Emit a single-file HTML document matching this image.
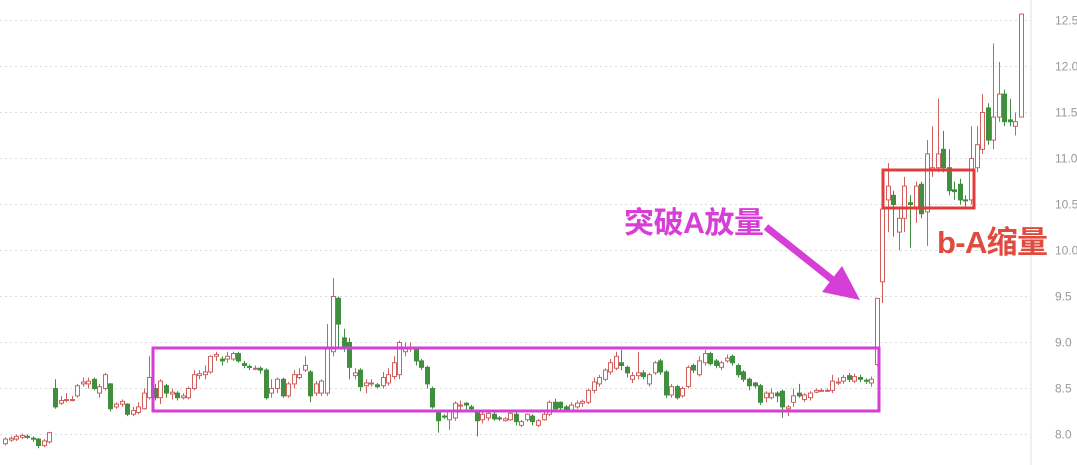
<!DOCTYPE html>
<html><head><meta charset="utf-8"><style>
html,body{margin:0;padding:0;background:#fff;}
svg{display:block;font-family:"Liberation Sans","Noto Sans CJK SC",sans-serif;}
</style></head><body>
<svg id="chart" width="1077" height="465" viewBox="0 0 1077 465" xmlns="http://www.w3.org/2000/svg">
<g id="grid"></g>
<line x1="1031" y1="0" x2="1031" y2="465" stroke="#e2e2e2"/>
<g id="yticks"></g>
<g id="candles"></g>
<rect x="153" y="348" width="726" height="63" fill="none" stroke="#d63ed6" stroke-width="3"/>
<rect x="883" y="170" width="91" height="38" fill="none" stroke="#e03c3c" stroke-width="3"/>
<text x="624" y="233" font-size="30" font-weight="bold" fill="#d63ed6" textLength="140">突破A放量</text>
<g>
<line x1="766" y1="227" x2="834" y2="281" stroke="#d63ed6" stroke-width="7"/>
<polygon points="860,300 822,292 842,266" fill="#d63ed6"/>
</g>
<text x="937" y="253" font-size="31" font-weight="bold" fill="#e04a3f" textLength="111">b-A缩量</text>
</svg>
<script>
const tickLabels=["8.0","8.5","9.0","9.5","10.0","10.5","11.0","11.5","12.0","12.5"];
const tickValues=[8.0,8.5,9.0,9.5,10.0,10.5,11.0,11.5,12.0,12.5];
const opens=[7.9,7.94,7.95,7.97,7.98,7.96,7.95,7.88,7.92,8.5,8.34,8.37,8.38,8.42,8.55,8.55,8.6,8.45,8.5,8.55,8.3,8.33,8.33,8.22,8.24,8.28,8.4,
8.5,8.4,8.53,8.44,8.45,8.4,8.4,8.5,8.64,8.65,8.68,8.85,8.82,8.82,8.82,8.88,8.77,8.74,8.72,8.72,8.7,8.45,8.5,8.6,8.42,8.55,8.62,8.7,8.68,8.45,8.45,8.45,8.9,9.48,9.05,9.0,
8.64,8.7,8.53,8.55,8.54,8.53,8.56,8.63,8.65,8.9,8.95,8.93,8.8,8.73,8.5,8.25,8.2,8.16,8.18,8.32,8.34,8.3,8.25,8.16,8.18,8.22,8.18,8.15,8.16,8.22,8.1,8.16,8.2,8.1,8.16,8.22,8.35,8.35,8.3,8.26,8.3,8.34,8.35,8.48,8.55,8.6,8.68,8.72,8.78,8.73,8.6,8.64,8.67,8.55,8.67,8.8,8.68,8.43,8.52,8.42,8.52,8.75,8.65,8.78,
8.88,8.8,8.73,8.8,8.85,8.75,8.68,8.6,8.56,8.53,8.4,8.4,8.45,8.47,8.28,8.35,8.45,8.38,8.4,8.46,8.48,8.48,8.48,8.56,8.58,8.64,8.58,8.62,8.59,8.56,8.76,9.66,10.55,10.6,10.2,10.35,10.52,10.45,10.72,10.42,10.88,10.9,11.1,10.9,10.66,10.72,10.55,10.55,10.9,11.1,11.55,11.2,11.45,11.7,11.42,11.35,11.45];
const closes=[7.95,7.96,7.98,7.99,7.97,7.95,7.88,7.93,8.02,8.3,8.37,8.38,8.38,8.53,8.57,8.58,8.5,8.52,8.65,8.28,8.33,8.36,8.22,8.26,8.3,8.45,8.62,
8.4,8.58,8.45,8.46,8.4,8.42,8.5,8.65,8.66,8.68,8.85,8.87,8.8,8.85,8.88,8.8,8.75,8.73,8.72,8.7,8.4,8.5,8.6,8.42,8.55,8.65,8.65,8.75,8.42,8.55,8.58,8.95,9.5,9.2,8.95,8.73,
8.67,8.52,8.56,8.56,8.52,8.62,8.65,8.78,9.0,8.95,8.95,8.8,8.73,8.55,8.3,8.15,8.19,8.25,8.34,8.32,8.32,8.28,8.15,8.22,8.23,8.17,8.17,8.17,8.23,8.14,8.14,8.22,8.14,8.15,8.22,8.35,8.28,8.29,8.26,8.32,8.34,8.36,8.48,8.57,8.62,8.7,8.78,8.85,8.75,8.67,8.64,8.67,8.63,8.65,8.78,8.68,8.43,8.52,8.4,8.5,8.73,8.7,8.8,8.88,
8.77,8.75,8.78,8.83,8.78,8.65,8.6,8.53,8.53,8.35,8.45,8.45,8.42,8.3,8.3,8.42,8.42,8.43,8.45,8.48,8.48,8.48,8.58,8.57,8.62,8.6,8.63,8.6,8.58,8.6,9.48,10.45,10.7,10.5,10.35,10.7,10.5,10.7,10.4,11.05,10.9,11.05,10.9,10.65,10.64,10.55,10.54,11.0,11.15,11.5,11.2,11.45,11.7,11.4,11.4,11.4,12.57];
const highs=[7.97,7.98,8.0,8.01,8.0,7.98,7.96,7.95,8.03,8.6,8.42,8.45,8.42,8.55,8.62,8.62,8.62,8.55,8.67,8.56,8.35,8.38,8.34,8.3,8.35,8.5,8.85,
8.55,8.6,8.55,8.5,8.47,8.45,8.52,8.7,8.7,8.75,8.86,8.9,8.85,8.9,8.9,8.9,8.8,8.76,8.75,8.74,8.72,8.6,8.62,8.62,8.57,8.7,8.72,8.85,8.7,8.58,8.6,9.2,9.7,9.5,9.15,9.05,
8.72,8.72,8.6,8.6,8.56,8.68,8.72,8.85,9.02,9.0,9.0,8.95,8.82,8.75,8.52,8.27,8.22,8.27,8.36,8.37,8.35,8.32,8.27,8.24,8.25,8.24,8.2,8.19,8.25,8.24,8.16,8.23,8.22,8.17,8.25,8.37,8.39,8.36,8.32,8.35,8.37,8.38,8.5,8.62,8.65,8.72,8.82,8.9,8.92,8.75,8.68,8.9,8.7,8.67,8.8,8.82,8.7,8.55,8.54,8.52,8.75,8.77,8.85,8.92,
8.9,8.82,8.8,8.87,8.87,8.77,8.7,8.62,8.57,8.55,8.47,8.5,8.47,8.49,8.32,8.5,8.55,8.45,8.47,8.5,8.5,8.5,8.65,8.62,8.65,8.67,8.66,8.65,8.61,8.63,9.48,10.45,10.95,10.65,10.45,10.8,10.6,10.75,10.75,11.2,11.35,11.65,11.3,11.1,10.75,10.78,10.6,11.35,11.35,11.7,11.6,12.25,12.05,11.75,11.65,11.5,12.57];
const lows=[7.88,7.92,7.93,7.95,7.95,7.92,7.85,7.86,7.9,8.28,8.32,8.35,8.36,8.4,8.52,8.5,8.48,8.4,8.48,8.25,8.28,8.3,8.2,8.2,8.22,8.27,8.38,
8.37,8.33,8.4,8.38,8.37,8.38,8.38,8.48,8.6,8.6,8.66,8.8,8.75,8.78,8.8,8.78,8.72,8.7,8.7,8.66,8.38,8.4,8.45,8.4,8.4,8.5,8.6,8.68,8.35,8.42,8.42,8.42,8.85,8.95,8.9,8.6,
8.6,8.47,8.45,8.52,8.5,8.5,8.53,8.6,8.6,8.85,8.9,8.75,8.7,8.5,8.28,8.02,8.17,8.05,8.15,8.27,8.27,8.26,7.98,8.12,8.15,8.15,8.15,8.14,8.15,8.1,8.08,8.14,8.1,8.08,8.15,8.2,8.25,8.27,8.24,8.24,8.28,8.3,8.33,8.45,8.52,8.58,8.65,8.7,8.7,8.62,8.56,8.6,8.6,8.52,8.65,8.65,8.4,8.4,8.38,8.4,8.5,8.67,8.63,8.75,
8.75,8.72,8.7,8.78,8.75,8.62,8.57,8.48,8.5,8.32,8.35,8.38,8.35,8.18,8.2,8.3,8.4,8.35,8.37,8.45,8.46,8.46,8.45,8.54,8.55,8.57,8.56,8.57,8.55,8.52,8.74,9.43,10.2,10.15,10.0,10.2,10.03,10.3,10.35,10.05,10.8,10.85,10.85,10.6,10.55,10.5,10.48,10.5,10.85,11.05,11.15,11.1,11.4,11.35,11.35,11.25,11.45];

const NS="http://www.w3.org/2000/svg";
function yScale(v){return 434.5-(v-8.0)*92;}
function xScale(i){return 5+i*(1016/(closes.length-1));}
function mk(tag,attrs,parent){const e=document.createElementNS(NS,tag);for(const k in attrs)e.setAttribute(k,attrs[k]);parent.appendChild(e);return e;}

const grid=document.getElementById('grid'), yt=document.getElementById('yticks'), cg=document.getElementById('candles');
tickValues.forEach((v,i)=>{
  const y=yScale(v);
  const l=mk('line',{x1:0,x2:1031,y1:y,y2:y,stroke:'#dcdcdc','stroke-dasharray':'2,3'},grid);
  
  
  const t=mk('text',{x:1055,y:y+4,'font-size':12,fill:'#999'},yt);
  t.textContent=tickLabels[i];
  
  
});
for(let i=0;i<closes.length;i++){
  const x=Math.round(xScale(i))+0.5;
  const up=closes[i]>=opens[i];
  const col=up?'#d0605e':'#3f8f3f';
  const g=mk('g',{},cg);
  
  
  mk('line',{x1:x,x2:x,y1:yScale(highs[i]),y2:yScale(lows[i]),stroke:col,'stroke-width':1},g);
  const top=yScale(Math.max(opens[i],closes[i])), bot=yScale(Math.min(opens[i],closes[i]));
  const h=Math.max(1,bot-top);
  mk('rect',{x:x-2,y:top,width:4,height:h,fill:up?'#fff':col,stroke:col,'stroke-width':1},g);
}
</script>
</body></html>
